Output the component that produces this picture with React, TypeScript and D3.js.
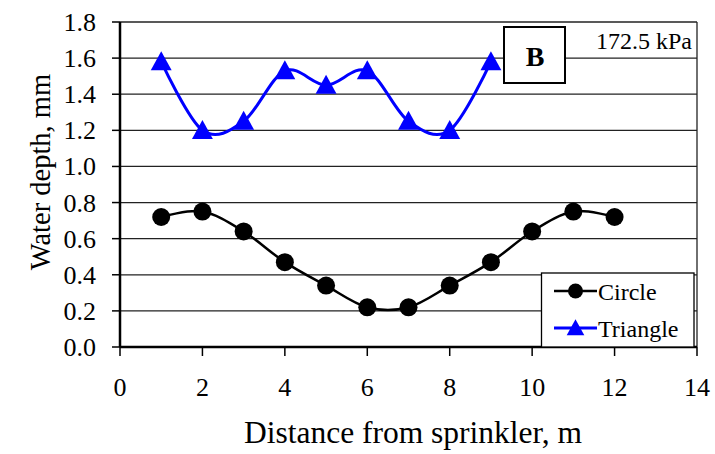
import React from "react";
import * as d3 from "d3";

// Distance from sprinkler (m) and measured water depth (mm)
const circleX = [1, 2, 3, 4, 5, 6, 7, 8, 9, 10, 11, 12];
const circleY = [0.72, 0.75, 0.64, 0.47, 0.34, 0.22, 0.22, 0.34, 0.47, 0.64, 0.75, 0.72];
const triangleX = [1, 2, 3, 4, 5, 6, 7, 8, 9];
const triangleY = [1.58, 1.2, 1.25, 1.53, 1.45, 1.53, 1.25, 1.2, 1.58];
const xTicks = [0, 2, 4, 6, 8, 10, 12, 14];
const yTicks = [0, 0.2, 0.4, 0.6, 0.8, 1.0, 1.2, 1.4, 1.6, 1.8];
const seriesNames = ["Circle", "Triangle"];
const panelLabel = "B";
const pressureLabel = "172.5 kPa";

const W = 715;
const H = 454;
const FONT = "Liberation Serif, Times New Roman, Times, DejaVu Serif, serif";

export default function App() {
  const left = 120, right = 697, top = 22, bottom = 347;
  const x = d3.scaleLinear().domain([0, 14]).range([left, right]);
  const y = d3.scaleLinear().domain([0, 1.8]).range([bottom, top]);

  const line = d3
    .line<[number, number]>()
    .x((d) => x(d[0]))
    .y((d) => y(d[1]))
    .curve(d3.curveCatmullRom.alpha(0));

  const circlePts: [number, number][] = circleX.map((v, i) => [v, circleY[i]]);
  const trianglePts: [number, number][] = triangleX.map((v, i) => [v, triangleY[i]]);

  const tri = (cx: number, cy: number, s: number) =>
    `M${cx},${cy - s * 0.55} L${cx + s * 0.55},${cy + s * 0.45} L${cx - s * 0.55},${cy + s * 0.45} Z`;

  return (
    <svg
      width={W}
      height={H}
      viewBox={`0 0 ${W} ${H}`}
      style={{ position: "absolute", left: 0, top: 0, background: "#fff", fontFamily: FONT }}
    >
      {/* gridlines */}
      {yTicks.slice(1).map((t) => (
        <line key={t} x1={left} x2={right} y1={y(t)} y2={y(t)} stroke="#222" strokeWidth={1.3} />
      ))}
      {/* right border */}
      <line x1={right} x2={right} y1={top} y2={bottom} stroke="#222" strokeWidth={1.3} />

      {/* y axis */}
      <line x1={left} x2={left} y1={top} y2={bottom} stroke="#000" strokeWidth={2.5} />
      {yTicks.map((t) => (
        <g key={t}>
          <line x1={left - 8} x2={left} y1={y(t)} y2={y(t)} stroke="#000" strokeWidth={1.5} />
          <text x={96} y={y(t) + 9} textAnchor="end" fontSize={26} fill="#000">
            {t.toFixed(1)}
          </text>
        </g>
      ))}

      {/* x axis */}
      <line x1={left} x2={right} y1={bottom} y2={bottom} stroke="#000" strokeWidth={2.5} />
      {xTicks.map((t) => (
        <g key={t}>
          <line x1={x(t)} x2={x(t)} y1={bottom} y2={bottom + 9} stroke="#000" strokeWidth={1.5} />
          <text x={x(t)} y={396} textAnchor="middle" fontSize={26} fill="#000">
            {t}
          </text>
        </g>
      ))}

      {/* axis titles */}
      <text x={413} y={443} textAnchor="middle" fontSize={31.5} fill="#000">
        Distance from sprinkler, m
      </text>
      <text
        transform={`translate(50,172) rotate(-90)`}
        textAnchor="middle"
        fontSize={28.5}
        fill="#000"
      >
        Water depth, mm
      </text>

      {/* series */}
      <path d={line(circlePts) ?? ""} fill="none" stroke="#000" strokeWidth={2.5} />
      {circlePts.map((p, i) => (
        <circle key={i} cx={x(p[0])} cy={y(p[1])} r={9} fill="#000" />
      ))}
      <path d={line(trianglePts) ?? ""} fill="none" stroke="#0000ff" strokeWidth={3} />
      {trianglePts.map((p, i) => (
        <path key={i} d={tri(x(p[0]), y(p[1]), 19)} fill="#0000ff" />
      ))}

      {/* panel label */}
      <rect x={504} y={27} width={61} height={56} fill="#fff" stroke="#000" strokeWidth={2} />
      <text x={535} y={66} textAnchor="middle" fontSize={28} fontWeight="bold" fill="#000">
        {panelLabel}
      </text>
      <text x={692} y={49} textAnchor="end" fontSize={24} fill="#000">
        {pressureLabel}
      </text>

      {/* legend */}
      <rect x={541.5} y={273} width={152.5} height={74} fill="#fff" stroke="#000" strokeWidth={1.3} />
      <line x1={554} x2={597} y1={291} y2={291} stroke="#000" strokeWidth={2.5} />
      <circle cx={575.5} cy={291} r={7.5} fill="#000" />
      <text x={598} y={299.5} fontSize={24} fill="#000">
        {seriesNames[0]}
      </text>
      <line x1={554} x2={597} y1={328} y2={328} stroke="#0000ff" strokeWidth={3} />
      <path d={tri(575.5, 328, 16)} fill="#0000ff" />
      <text x={598} y={336.5} fontSize={24} fill="#000">
        {seriesNames[1]}
      </text>
    </svg>
  );
}
